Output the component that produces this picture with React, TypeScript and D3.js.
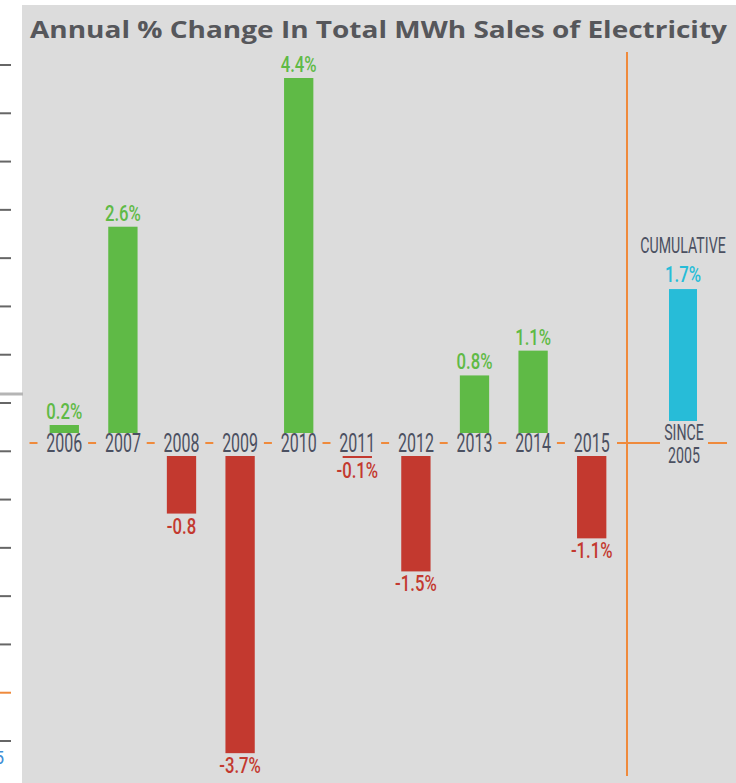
import React from "react";
import * as d3 from "d3";

const years = ["2006", "2007", "2008", "2009", "2010", "2011", "2012", "2013", "2014", "2015"];
const changes = [0.2, 2.6, -0.8, -3.7, 4.4, -0.1, -1.5, 0.8, 1.1, -1.1];
const valueLabels = ["0.2%", "2.6%", "-0.8", "-3.7%", "4.4%", "-0.1%", "-1.5%", "0.8%", "1.1%", "-1.1%"];
const cumulativeValue = 1.7;
const cumulativeLabel = "1.7%";
const cumulativeTitle = "CUMULATIVE";
const cumulativeSub = ["SINCE", "2005"];
const title = "Annual % Change In Total MWh Sales of Electricity";
const leftTickIdx = d3.range(15);

const W = 736;
const H = 783;
const GREEN = "#5fba46";
const RED = "#c3392f";
const BLUE = "#27bcd8";
const ORANGE = "#ef8a3c";
const TEXT = "#4b5061";
const BG = "#dcdcdc";

export default function App() {
  const x = d3.scaleBand<string>().domain(years).range([35, 621]).paddingInner(0.5).paddingOuter(0.25);
  const h = d3.scaleLinear().domain([0, 0.1, 0.2, 4.4]).range([0, 2, 8, 355]);
  const axisY = 443;
  const posBase = 433;
  const negBase = 456;
  const cumBase = 421;
  const cumX = 683;
  const bw = x.bandwidth();
  const step = x.step();
  const leftY = d3.scaleLinear().domain([0, 14]).range([65, 741]);

  const cond = (cx: number, cy: number, s: number) => `translate(${cx},${cy}) scale(${s},1)`;

  return (
    <svg width={W} height={H} style={{ position: "absolute", left: 0, top: 0, background: "#fff" }}>
      <rect x={0} y={0} width={W} height={H} fill="#fff" />
      <rect x={22} y={5} width={W - 22} height={H - 5} fill={BG} />

      {/* cropped left axis */}
      {leftTickIdx.map((i) => (
        <line key={i} x1={0} x2={11} y1={leftY(i)} y2={leftY(i)} stroke={i === 13 ? ORANGE : "#666"} strokeWidth={2} />
      ))}
      <line x1={0} x2={23} y1={394} y2={394} stroke="#b5b5b5" strokeWidth={3} />
      <text x={-6} y={764} fill="#3f8fd6" fontFamily="Roboto" fontSize={18}>5</text>

      {/* title */}
      <text x={30} y={38} fill="#56575b" fontFamily="'Open Sans'" fontWeight={700} fontSize={24} textLength={697} lengthAdjust="spacingAndGlyphs">
        {title}
      </text>

      {/* vertical divider */}
      <line x1={627} x2={627} y1={52} y2={776} stroke={ORANGE} strokeWidth={2} />

      {/* axis dashes */}
      {years.map((yr) => {
        const c = (x(yr) as number) + bw / 2 - step / 2 - 1.5;
        return <line key={"d" + yr} x1={c - 4} x2={c + 4} y1={axisY} y2={axisY} stroke={ORANGE} strokeWidth={2} />;
      })}
      <line x1={617} x2={660} y1={axisY} y2={axisY} stroke={ORANGE} strokeWidth={2} />
      <line x1={708} x2={727} y1={axisY} y2={axisY} stroke={ORANGE} strokeWidth={2} />

      {/* bars */}
      {years.map((yr, i) => {
        const v = changes[i];
        const bx = x(yr) as number;
        const hh = h(Math.abs(v));
        const y0 = v >= 0 ? posBase - hh : negBase;
        return <rect key={"b" + yr} x={bx} y={y0} width={bw} height={hh} fill={v >= 0 ? GREEN : RED} />;
      })}

      {/* year labels */}
      {years.map((yr) => (
        <text key={"y" + yr} transform={cond((x(yr) as number) + bw / 2, 452, 0.64)} textAnchor="middle" fill={TEXT} fontFamily="Roboto" fontSize={25}>
          {yr}
        </text>
      ))}

      {/* value labels */}
      {years.map((yr, i) => {
        const v = changes[i];
        const cx = (x(yr) as number) + bw / 2;
        const hh = h(Math.abs(v));
        const ly = v >= 0 ? posBase - hh - 6 : negBase + hh + 20;
        return (
          <text key={"v" + yr} transform={cond(cx, ly, 0.76)} textAnchor="middle" fill={v >= 0 ? GREEN : RED} fontFamily="Roboto" fontWeight={500} fontSize={22}>
            {valueLabels[i]}
          </text>
        );
      })}

      {/* cumulative */}
      <rect x={cumX - 14} y={cumBase - h(cumulativeValue)} width={28} height={h(cumulativeValue)} fill={BLUE} />
      <text transform={cond(cumX, cumBase - h(cumulativeValue) - 7, 0.76)} textAnchor="middle" fill={BLUE} fontFamily="Roboto" fontWeight={500} fontSize={22}>
        {cumulativeLabel}
      </text>
      <text transform={cond(cumX, cumBase - h(cumulativeValue) - 36, 0.63)} textAnchor="middle" fill={TEXT} fontFamily="Roboto" fontSize={22.5}>
        {cumulativeTitle}
      </text>
      {cumulativeSub.map((s, i) => (
        <text key={s} transform={cond(cumX + 1, 440 + i * 23, 0.66)} textAnchor="middle" fill={TEXT} fontFamily="Roboto" fontSize={21.5}>
          {s}
        </text>
      ))}
    </svg>
  );
}
